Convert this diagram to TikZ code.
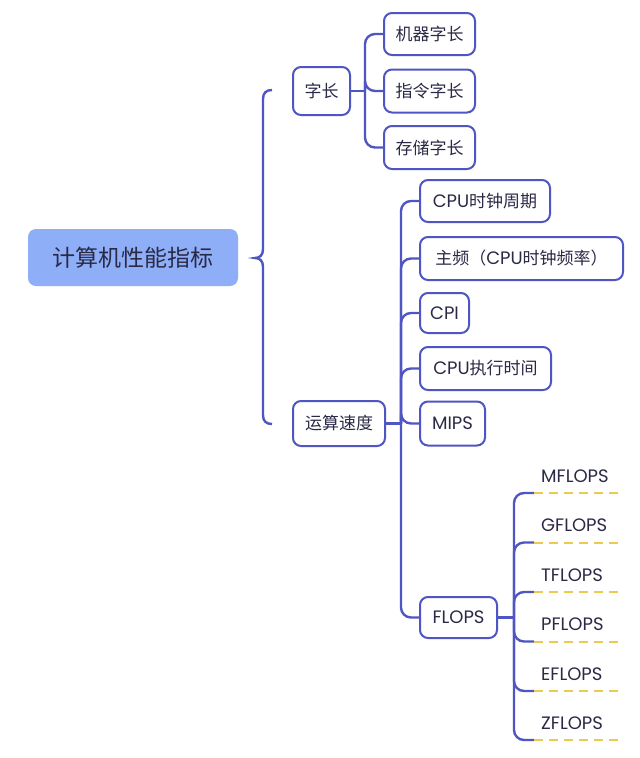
\documentclass[tikz,border=0pt]{standalone}
\usepackage{fontspec}
\setmainfont{Poppins}
\newfontfamily\cjk{Noto Sans CJK SC}
\newcommand\zh[1]{{\cjk\fontsize{17}{20}\selectfont #1}}
\usetikzlibrary{calc}
\definecolor{linec}{HTML}{4F55C2}
\definecolor{txt}{HTML}{2A2A46}
\definecolor{rootfill}{HTML}{8EAEF8}
\definecolor{dashc}{HTML}{EACB50}
\begin{document}
\begin{tikzpicture}[x=1pt,y=-1pt,
  box/.style={draw=linec, line width=2pt, rounded corners=8pt, fill=white,
    text=txt, inner sep=0pt, font=\fontsize{18}{21}\selectfont},
  rootbox/.style={fill=rootfill, rounded corners=8pt, text=txt, inner sep=0pt,
    font=\cjk\fontsize{23}{27}\selectfont},
  conn/.style={draw=linec, line width=2.4pt, rounded corners=10pt},
  bracestyle/.style={draw=linec, line width=2.4pt},
  leaf/.style={anchor=south west, inner xsep=7pt, inner ysep=0pt,
    text width=72pt, align=left, minimum height=34pt, text=txt,
    font=\fontsize{18}{21}\selectfont},
  dashline/.style={draw=dashc, line width=2pt, dash pattern=on 9pt off 6pt}]
\fill[white] (0,0) rectangle (640,758);
\useasboundingbox (0,0) rectangle (640,758);

% root
\node[rootbox, minimum width=210pt, minimum height=57pt] (root) at (133,257.5) {计算机性能指标};

% first level
\node[box, minimum width=57pt, minimum height=48pt] (zc) at (321.5,91) {\zh{字长}};
\node[box, minimum width=92pt, minimum height=45pt] (ys) at (339,423.5) {\zh{运算速度}};

% word-length children
\node[box, minimum width=91pt, minimum height=42pt] (c1) at (429.5,34) {\zh{机器字长}};
\node[box, minimum width=91pt, minimum height=43pt] (c2) at (429.5,91) {\zh{指令字长}};
\node[box, minimum width=91pt, minimum height=43pt] (c3) at (429.5,147.5) {\zh{存储字长}};

% speed children
\node[box, minimum width=130pt, minimum height=42pt] (s1) at (485,201) {CPU\zh{时钟周期}};
\node[box, minimum width=203pt, minimum height=43pt] (s2) at (521.5,258.5) {\zh{主频（}CPU\zh{时钟频率）}};
\node[box, minimum width=49pt, minimum height=40pt] (s3) at (444.5,313) {CPI};
\node[box, minimum width=131pt, minimum height=43pt] (s4) at (485.5,368.5) {CPU\zh{执行时间}};
\node[box, minimum width=65pt, minimum height=44pt] (s5) at (452.5,423.5) {MIPS};
\node[box, minimum width=77pt, minimum height=41pt] (s6) at (458.5,617.5) {FLOPS};

% FLOPS units
\node[leaf] (f1) at (534,493) {MFLOPS};
\node[leaf] (f2) at (534,542.5) {GFLOPS};
\node[leaf] (f3) at (534,592) {TFLOPS};
\node[leaf] (f4) at (534,641.5) {PFLOPS};
\node[leaf] (f5) at (534,691) {EFLOPS};
\node[leaf] (f6) at (534,740) {ZFLOPS};

% bus positions
\coordinate (b1) at (365,0);
\coordinate (b2) at (401,0);
\coordinate (b3) at (514,0);

% brace from the root to both branches
\draw[bracestyle]
  (272,90) .. controls (266,90) and (263,93) .. (263,99) -- (263,249)
  .. controls (263,255) and (260,258) .. (255,258)
  .. controls (260,258) and (263,261) .. (263,267) -- (263,415)
  .. controls (263,421) and (266,424) .. (272,424);

% word-length connectors
\draw[conn] (zc.east) -- (zc.east -| b1);
\foreach \c in {c1,c2,c3} \draw[conn] (zc.east -| b1) |- (\c.west);

% speed connectors
\draw[conn] (ys.east) -- (ys.east -| b2);
\foreach \c in {s1,s2,s3,s4,s5,s6} \draw[conn] (ys.east -| b2) |- (\c.west);

% FLOPS connectors and dashed underlines
\draw[conn] (s6.east) -- (s6.east -| b3);
\foreach \f in {f1,f2,f3,f4,f5,f6} {
  \draw[conn] (s6.east -| b3) |- (\f.south west);
  \draw[dashline] (\f.south west) -- (\f.south east);
}
\end{tikzpicture}
\end{document}
